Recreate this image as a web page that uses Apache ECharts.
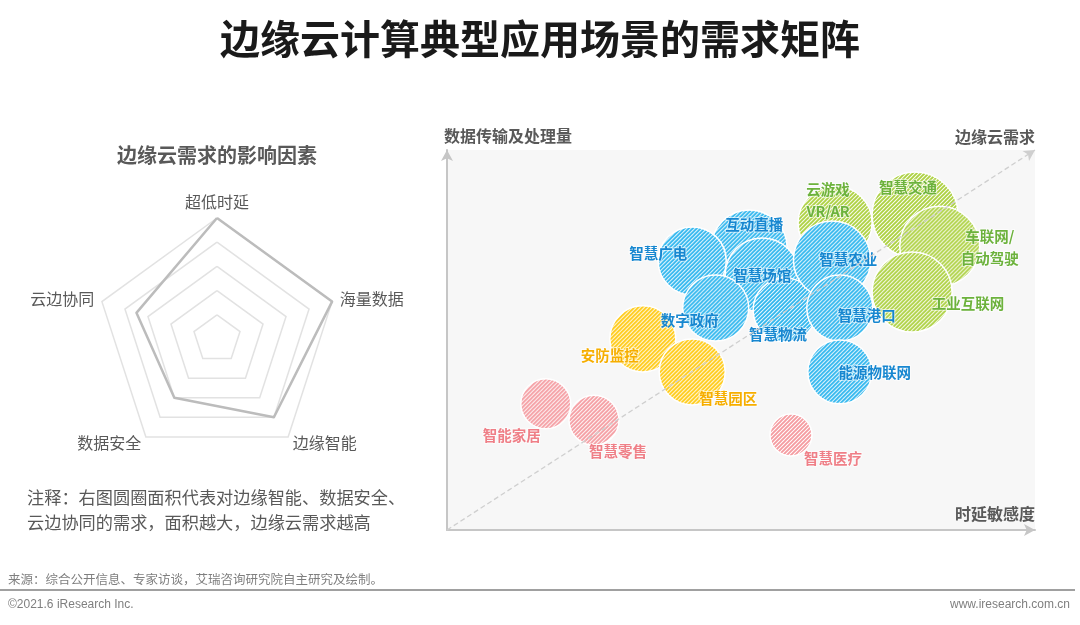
<!DOCTYPE html>
<html>
<head>
<meta charset="utf-8">
<script src="https://cdn.jsdelivr.net/npm/echarts@6/dist/echarts.min.js"></script>
<style>
html, body { margin: 0; padding: 0; background: #fff; }
#chart { width: 1080px; height: 625px; }
</style>
</head>
<body>
<div id="chart"></div>
<script>
// 雷达图：边缘云需求的影响因素（逆时针，从顶部开始）
const factors = ['超低时延', '云边协同', '数据安全', '边缘智能', '海量数据'];
const factorScores = [5, 3.5, 3, 4, 5];

// 气泡图：应用场景
const scenes = ['互动直播', '智慧广电', '智慧场馆', '数字政府', '智慧物流', '智慧农业', '智慧港口', '能源物联网',
    '云游戏\nVR/AR', '智慧交通', '车联网/\n自动驾驶', '工业互联网',
    '安防监控', '智慧园区',
    '智能家居', '智慧零售', '智慧医疗'];
const latencySense = [51.4, 41.7, 53.6, 45.7, 57.5, 65.5, 66.8, 66.8, 66.0, 79.6, 83.8, 79.1, 33.3, 41.7, 16.8, 25.0, 58.5];
const dataVolume = [74.2, 70.8, 67.1, 58.4, 57.9, 71.1, 58.4, 41.6, 80.8, 82.9, 74.7, 62.6, 50.3, 41.6, 33.2, 28.9, 25.0];
const demand = [14.4, 11.6, 13.7, 10.9, 10.2, 15, 10.9, 10.2, 13.7, 18.5, 16, 16, 10.9, 10.9, 6.25, 6.25, 4.4];
const sceneGroup = [0, 0, 0, 0, 0, 0, 0, 0, 1, 1, 1, 1, 2, 2, 3, 3, 3];

// 样式
const fillColors = ['#2bb5ee', '#acd13f', '#ffc90c', '#f59ca1'];
const textColors = ['#1787d0', '#6cb23c', '#f6ae00', '#ef7f87'];
const labelOffset = {
    '互动直播': [5, -24], '智慧广电': [-34, -7], '智慧场馆': [0, 0], '数字政府': [-26, 12],
    '智慧物流': [-7, 25], '智慧农业': [16, 0], '智慧港口': [27, 7], '能源物联网': [35, 1],
    '云游戏\nVR/AR': [-7, -22], '智慧交通': [-7, -27], '车联网/\n自动驾驶': [50, 1], '工业互联网': [56, 11],
    '安防监控': [-33, 17], '智慧园区': [36, 27],
    '智能家居': [-34, 32], '智慧零售': [24, 31], '智慧医疗': [42, 23]
};
const drawOrder = [1, 0, 3, 2]; // 绿、蓝、粉、黄

const FONT = '"Noto Sans CJK SC", "Microsoft YaHei", sans-serif';
const bubbleSize = d => Math.sqrt(d) * 20;

// 斜线填充图案
function stripe(color) {
    const s = 4;
    const c = document.createElement('canvas');
    c.width = s; c.height = s;
    const ctx = c.getContext('2d');
    ctx.fillStyle = '#ffffff';
    ctx.fillRect(0, 0, s, s);
    ctx.strokeStyle = color;
    ctx.lineWidth = 1.9;
    ctx.beginPath();
    ctx.moveTo(-1, s + 1); ctx.lineTo(s + 1, -1);
    ctx.moveTo(-1, 1); ctx.lineTo(1, -1);
    ctx.moveTo(s - 1, s + 1); ctx.lineTo(s + 1, s - 1);
    ctx.stroke();
    return c;
}
const tiles = fillColors.map(stripe);

var bubbleSeries = drawOrder.map(g => {
    const data = [];
    scenes.forEach((name, i) => {
        if (sceneGroup[i] !== g) return;
        // 符号按 size/2 缩放，图案反向缩放保持像素级斜线
        const k = 2 / bubbleSize(demand[i]);
        data.push({
            name: name,
            value: [latencySense[i], dataVolume[i], demand[i]],
            itemStyle: { color: { image: tiles[g], repeat: 'repeat', scaleX: k, scaleY: k } },
            label: { offset: labelOffset[name] }
        });
    });
    return {
        type: 'scatter',
        data: data,
        symbolSize: v => bubbleSize(v[2]),
        itemStyle: {
            opacity: 1,
            borderColor: '#fff',
            borderWidth: 1.5
        },
        label: {
            show: true,
            position: 'inside',
            formatter: p => p.name,
            color: textColors[g],
            fontSize: 14.5,
            fontWeight: 'bold',
            fontFamily: FONT,
            lineHeight: 22,
            textBorderColor: 'rgba(255,255,255,0.6)',
            textBorderWidth: 2
        },
        emphasis: { disabled: true }
    };
});

var options = {
    backgroundColor: '#fff',
    grid: {
        left: 447, right: 45, top: 150, bottom: 95,
        show: true, backgroundColor: '#f7f7f7', borderWidth: 0
    },
    xAxis: {
        type: 'value', min: 0, max: 100,
        axisLine: { lineStyle: { color: '#c6c6c6', width: 2 }, symbol: ['none', 'arrow'], symbolSize: [9, 11] },
        axisTick: { show: false }, axisLabel: { show: false }, splitLine: { show: false }
    },
    yAxis: {
        type: 'value', min: 0, max: 100,
        axisLine: { show: true, lineStyle: { color: '#c6c6c6', width: 2 }, symbol: ['none', 'arrow'], symbolSize: [9, 11] },
        axisTick: { show: false }, axisLabel: { show: false }, splitLine: { show: false }
    },
    radar: {
        center: [217, 339],
        radius: 121,
        startAngle: 90,
        splitNumber: 5,
        shape: 'polygon',
        nameGap: 8,
        indicator: factors.map(n => ({ name: n, max: 5 })),
        axisName: { color: '#595959', fontSize: 16, fontFamily: FONT },
        splitLine: { lineStyle: { color: '#e2e2e2', width: 1.5 } },
        splitArea: { show: false },
        axisLine: { show: false },
        axisTick: { show: false }
    },
    series: [
        {
            type: 'radar',
            symbol: 'none',
            lineStyle: { color: '#bcbcbc', width: 2.5 },
            data: [{ value: factorScores }],
            silent: true
        },
        ...bubbleSeries,
        {
            // 对角虚线：边缘云需求
            type: 'scatter',
            data: [],
            z: 5,
            markLine: {
                silent: true,
                symbol: ['none', 'arrow'],
                symbolSize: [9, 11],
                label: { show: false },
                lineStyle: { color: '#cfcfcf', type: [5, 3], width: 1.3 },
                data: [[{ coord: [0, 0] }, { coord: [100, 100] }]]
            }
        }
    ],
    graphic: [
        { type: 'text', left: 'center', top: 19, style: { text: '边缘云计算典型应用场景的需求矩阵', font: 'bold 40px ' + FONT, fill: '#1a1a1a' } },
        { type: 'text', x: 217, y: 155, style: { text: '边缘云需求的影响因素', font: 'bold 20px ' + FONT, fill: '#595959', align: 'center', verticalAlign: 'middle' } },
        { type: 'text', x: 27, y: 497, style: { text: '注释：右图圆圈面积代表对边缘智能、数据安全、', font: '17.2px ' + FONT, fill: '#595959', verticalAlign: 'middle' } },
        { type: 'text', x: 27, y: 522, style: { text: '云边协同的需求，面积越大，边缘云需求越高', font: '17.2px ' + FONT, fill: '#595959', verticalAlign: 'middle' } },
        { type: 'text', x: 444, y: 136, style: { text: '数据传输及处理量', font: 'bold 16px ' + FONT, fill: '#595959', verticalAlign: 'middle' } },
        { type: 'text', x: 1035, y: 137, style: { text: '边缘云需求', font: 'bold 16px ' + FONT, fill: '#595959', align: 'right', verticalAlign: 'middle' } },
        { type: 'text', x: 1035, y: 514, style: { text: '时延敏感度', font: 'bold 16px ' + FONT, fill: '#595959', align: 'right', verticalAlign: 'middle' } },
        { type: 'text', x: 8, y: 579, style: { text: '来源：综合公开信息、专家访谈，艾瑞咨询研究院自主研究及绘制。', font: '12.5px ' + FONT, fill: '#7f7f7f', verticalAlign: 'middle' } },
        { type: 'line', shape: { x1: 0, y1: 590, x2: 1075, y2: 590 }, style: { stroke: '#a0a0a0', lineWidth: 1.8 } },
        { type: 'text', x: 8, y: 605, style: { text: '©2021.6 iResearch Inc.', font: '12px "Liberation Sans Narrow", "Liberation Sans", sans-serif', fill: '#7f7f7f', verticalAlign: 'middle' } },
        { type: 'text', x: 1070, y: 605, style: { text: 'www.iresearch.com.cn', font: '12px "Liberation Sans Narrow", "Liberation Sans", sans-serif', fill: '#7f7f7f', align: 'right', verticalAlign: 'middle' } }
    ]
};

var myChart = echarts.init(document.getElementById('chart'));
myChart.setOption(options);
</script>
</body>
</html>
